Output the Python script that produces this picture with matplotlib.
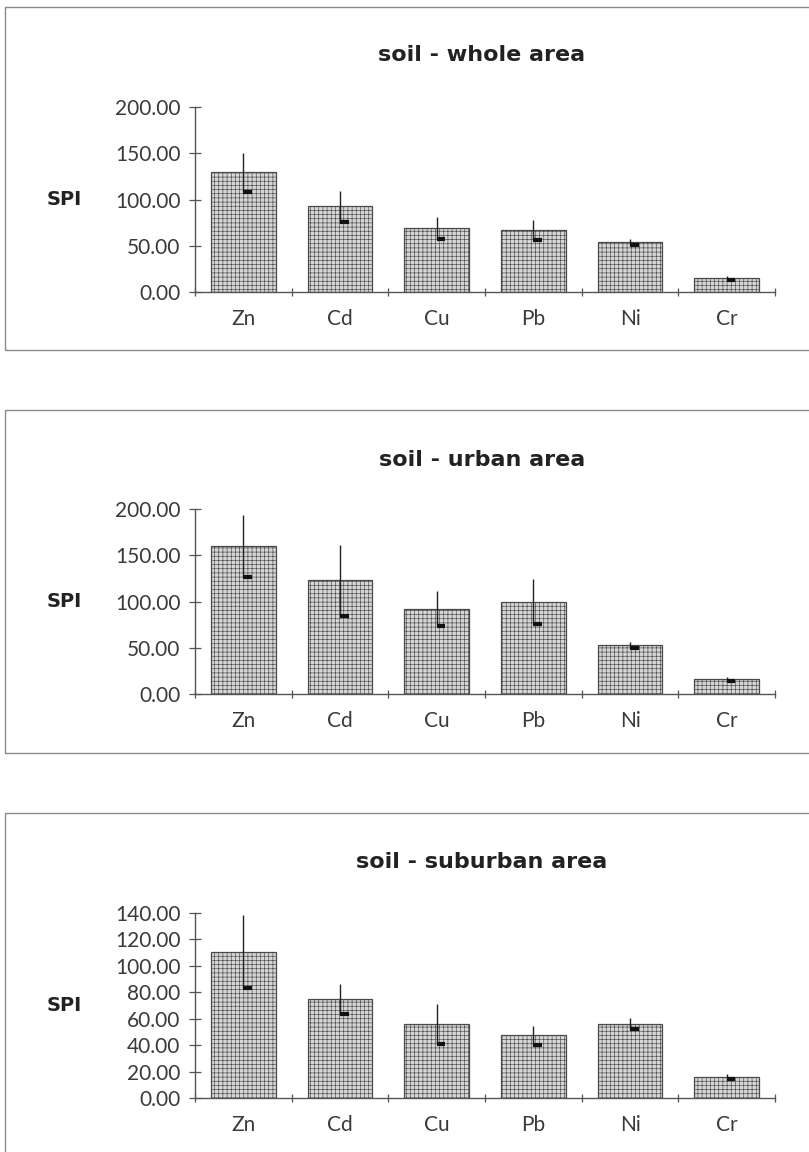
import matplotlib.pyplot as plt
from matplotlib.patches import Rectangle
import numpy as np

metals = ['Zn', 'Cd', 'Cu', 'Pb', 'Ni', 'Cr']

whole_spi = [129.5, 92.5, 69.0, 67.0, 54.0, 15.4]
whole_err = [21.0, 17.0, 12.0, 11.0, 3.0, 2.0]

urban_spi = [160.0, 123.0, 92.0, 100.0, 53.0, 16.2]
urban_err = [34.0, 38.5, 19.0, 24.0, 3.3, 1.7]

suburban_spi = [110.7, 75.0, 56.0, 47.4, 56.2, 16.1]
suburban_err = [27.5, 11.5, 15.5, 7.0, 4.3, 1.7]

plt.rcParams['font.family'] = ['Lato', 'DejaVu Sans']
plt.rcParams['hatch.color'] = '#a6a6a6'
plt.rcParams['hatch.linewidth'] = 0.45

txt = '#3a3a3a'
W, H = 809, 1152
fig = plt.figure(figsize=(W / 100, H / 100), dpi=100)

# (title, values, errors, ymax, ystep, axis-zero pixel row, panel box top row, title row)
panels = [
    ('soil - whole area', whole_spi, whole_err, 200, 50, 292, 7, 55),
    ('soil - urban area', urban_spi, urban_err, 200, 50, 694, 410, 460),
    ('soil - suburban area', suburban_spi, suburban_err, 140, 20, 1098, 813, 862),
]

x = np.arange(len(metals))
for title, vals, errs, ymax, ystep, zero_px, box_top, title_px in panels:
    # frame around each chart
    fig.patches.append(Rectangle((5 / W, 1 - (box_top + 343) / H), 1.2, 343 / H,
                                 transform=fig.transFigure, fill=False,
                                 edgecolor='#8a8a8a', lw=1.0))
    fig.text(482 / W, 1 - title_px / H, title, ha='center', va='center',
             fontsize=16, fontweight='bold', color='#222222',
             family='DejaVu Sans')

    ax = fig.add_axes([195 / W, 1 - zero_px / H, 580 / W, 185 / H])
    vals = np.array(vals)
    errs = np.array(errs)
    ax.bar(x, vals, width=0.67, color='#d6d6d6', edgecolor='#4a4a4a',
           linewidth=0.9, hatch='++++', zorder=2)
    # error lines with the lower end marked by a short heavy dash
    ax.vlines(x, vals - errs, vals + errs, color='#222222', lw=1.0, zorder=3)
    ax.hlines(vals - errs, x, x + 0.09, color='#111111', lw=3.0, zorder=4)

    ax.set_xlim(-0.5, len(metals) - 0.5)
    ax.set_ylim(0, ymax)
    ax.set_yticks(np.arange(0, ymax + 1, ystep))
    ax.set_yticklabels([f'{v:.2f}' for v in np.arange(0, ymax + 1, ystep)])
    ax.set_xticks(x)
    ax.set_xticklabels(metals)
    ax.set_xticks(np.arange(-0.5, len(metals)), minor=True)

    for s in ['top', 'right']:
        ax.spines[s].set_visible(False)
    for s in ['left', 'bottom']:
        ax.spines[s].set_color('#555555')
        ax.spines[s].set_linewidth(1.0)

    ax.tick_params(axis='y', direction='inout', length=9, width=0.9,
                   color='#555555', labelsize=15, labelcolor=txt, pad=6)
    ax.tick_params(axis='x', which='major', length=0, labelsize=15,
                   labelcolor=txt, pad=12)
    ax.tick_params(axis='x', which='minor', direction='inout', length=6,
                   width=0.9, color='#555555')

    ax.set_ylabel('SPI', rotation=0, fontsize=14, fontweight='bold',
                  color='#222222', ha='center', va='center',
                  family='DejaVu Sans')
    ax.yaxis.set_label_coords(-0.225, 0.5)
    ax.patch.set_alpha(0)

fig.savefig('out.png', dpi=100, facecolor='white')
